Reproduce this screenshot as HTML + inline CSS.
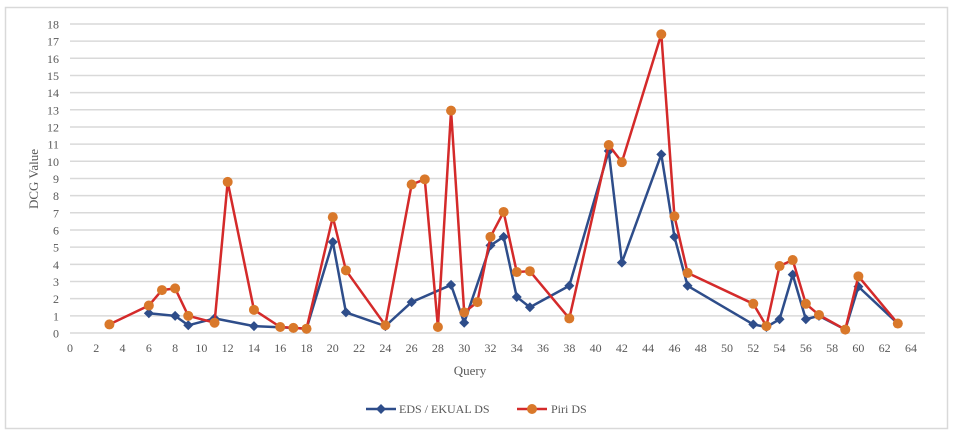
<!DOCTYPE html>
<html><head><meta charset="utf-8"><style>
html,body{margin:0;padding:0;background:#fff;}
svg{display:block;font-family:"Liberation Serif",serif;}
</style></head><body>
<svg id="c" width="953" height="435" viewBox="0 0 953 435" xmlns="http://www.w3.org/2000/svg">
<rect x="5.5" y="7.5" width="942" height="421" fill="#fff" stroke="#d9d9d9" stroke-width="1.5"/>
<g id="g"></g>
<text x="470" y="375" font-size="13" fill="#595959" text-anchor="middle">Query</text>
<text transform="translate(38,179) rotate(-90)" font-size="13" fill="#595959" text-anchor="middle">DCG Value</text>
<line x1="366" y1="409" x2="396" y2="409" stroke="#2e4d8a" stroke-width="2.5"/>
<path d="M381,404 L386,409 L381,414 L376,409Z" fill="#2e4d8a"/>
<text x="399" y="413" font-size="12" fill="#595959">EDS / EKUAL DS</text>
<line x1="517" y1="409" x2="547" y2="409" stroke="#d42a2a" stroke-width="2.5"/>
<circle cx="532" cy="409" r="5" fill="#d9782a"/>
<text x="551" y="413" font-size="12" fill="#595959">Piri DS</text>
</svg>
<script>
var g=document.getElementById('g'),ns="http://www.w3.org/2000/svg",h='';
function X(v){return 70+v*13.14;}function Y(v){return 333-v*17.17;}
for(var i=0;i<=18;i++){var y=Y(i);h+='<line x1="70" x2="925" y1="'+y+'" y2="'+y+'" stroke="#d9d9d9" stroke-width="1.5"/>';
h+='<text x="59" y="'+(y+4.5)+'" font-size="12" fill="#595959" text-anchor="end">'+i+'</text>';}
for(var i=0;i<=64;i+=2){h+='<text x="'+X(i)+'" y="352" font-size="12" fill="#595959" text-anchor="middle">'+i+'</text>';}
var B=[[6,1.15],[8,1.0],[9,0.45],[11,0.85],[14,0.4],[17,0.3],[18,0.25],[20,5.3],[21,1.2],[24,0.4],[26,1.8],[29,2.8],[30,0.6],[32,5.1],[33,5.6],[34,2.1],[35,1.5],[38,2.75],[41,10.6],[42,4.1],[45,10.4],[46,5.6],[47,2.75],[52,0.5],[53,0.35],[54,0.8],[55,3.4],[56,0.8],[57,1.0],[59,0.2],[60,2.7],[63,0.55]];
var R=[[3,0.5],[6,1.6],[7,2.5],[8,2.6],[9,1.0],[11,0.6],[12,8.8],[14,1.35],[16,0.35],[17,0.3],[18,0.25],[20,6.75],[21,3.65],[24,0.45],[26,8.65],[27,8.95],[28,0.35],[29,12.95],[30,1.2],[31,1.8],[32,5.6],[33,7.05],[34,3.55],[35,3.6],[38,0.85],[41,10.95],[42,9.95],[45,17.4],[46,6.8],[47,3.5],[52,1.7],[53,0.4],[54,3.9],[55,4.25],[56,1.7],[57,1.05],[59,0.2],[60,3.3],[63,0.55]];
function pts(a){return a.map(function(p){return X(p[0])+','+Y(p[1]);}).join(' ');}
h+='<polyline points="'+pts(B)+'" fill="none" stroke="#2e4d8a" stroke-width="2.5" stroke-linejoin="round"/>';
B.forEach(function(p){var x=X(p[0]),y=Y(p[1]);h+='<path d="M'+x+','+(y-5)+' L'+(x+5)+','+y+' L'+x+','+(y+5)+' L'+(x-5)+','+y+'Z" fill="#2e4d8a"/>';});
h+='<polyline points="'+pts(R)+'" fill="none" stroke="#d42a2a" stroke-width="2.5" stroke-linejoin="round"/>';
R.forEach(function(p){h+='<circle cx="'+X(p[0])+'" cy="'+Y(p[1])+'" r="5" fill="#d9782a"/>';});
g.innerHTML=h;
</script>
</body></html>
